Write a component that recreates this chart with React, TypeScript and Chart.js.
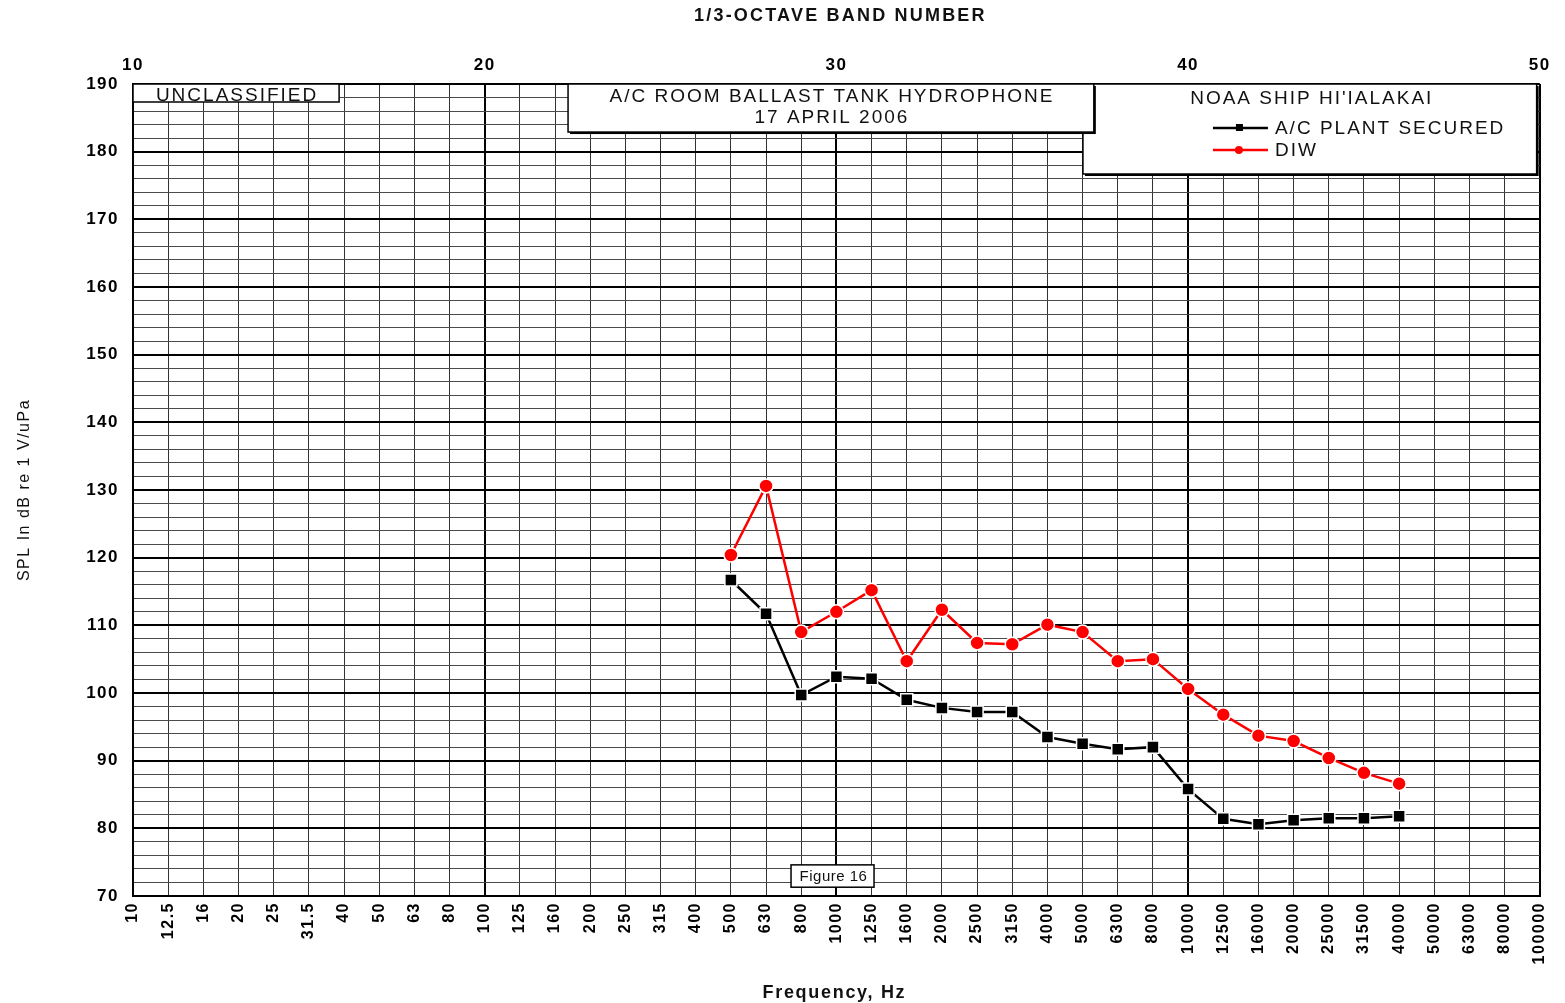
import React, { useEffect, useRef } from 'react';
import { Chart, registerables } from 'chart.js';

Chart.register(...registerables);

// 1/3-octave band numbers of the measured points
const bandNumbers = [27, 28, 29, 30, 31, 32, 33, 34, 35, 36, 37, 38, 39, 40, 41, 42, 43, 44, 45, 46];
// SPL, dB re 1 V/uPa
const acPlantSecured = [116.7, 111.7, 99.7, 102.4, 102.1, 99.0, 97.8, 97.2, 97.2, 93.5, 92.5, 91.7, 92.0, 85.8, 81.4, 80.6, 81.2, 81.5, 81.5, 81.8];
const diw = [120.4, 130.6, 109.0, 112.0, 115.2, 104.7, 112.3, 107.4, 107.2, 110.1, 109.0, 104.7, 105.0, 100.6, 96.8, 93.7, 92.9, 90.4, 88.2, 86.6];
// frequency labels for bands 10..50
const freqLabels = ['10', '12.5', '16', '20', '25', '31.5', '40', '50', '63', '80', '100', '125', '160', '200', '250', '315', '400', '500', '630', '800', '1000', '1250', '1600', '2000', '2500', '3150', '4000', '5000', '6300', '8000', '10000', '12500', '16000', '20000', '25000', '31500', '40000', '50000', '63000', '80000', '100000'];
const bandMin = 10;
const bandMax = 50;
const splMin = 70;
const splMax = 190;

const FONT = '"Liberation Sans", Arial, sans-serif';

const bgPlugin = {
  id: 'bg',
  beforeDraw(chart: any) {
    const ctx = chart.ctx;
    ctx.save();
    ctx.fillStyle = '#fff';
    ctx.fillRect(0, 0, chart.width, chart.height);
    ctx.restore();
    (ctx as any).letterSpacing = '1.5px';
  },
};

const boxesPlugin = {
  id: 'boxes',
  afterDraw(chart: any) {
    const ctx = chart.ctx as CanvasRenderingContext2D;
    const xs = chart.scales.x;
    const ys = chart.scales.y;
    const px = (b: number) => xs.getPixelForValue(b);
    const py = (v: number) => ys.getPixelForValue(v);
    const box = (x0: number, y0: number, x1: number, y1: number, shadow: boolean) => {
      ctx.save();
      if (shadow) {
        ctx.fillStyle = '#000';
        ctx.fillRect(x0 + 2, y0 + 2, x1 - x0, y1 - y0);
      }
      ctx.fillStyle = '#fff';
      ctx.fillRect(x0, y0, x1 - x0, y1 - y0);
      ctx.strokeStyle = '#000';
      ctx.lineWidth = 1.5;
      ctx.strokeRect(x0, y0, x1 - x0, y1 - y0);
      ctx.restore();
    };
    const text = (s: string, x: number, y: number, font: string, align: CanvasTextAlign, spacing: string, rot = 0) => {
      ctx.save();
      (ctx as any).letterSpacing = spacing;
      ctx.font = font;
      ctx.fillStyle = '#111';
      ctx.textAlign = align;
      ctx.textBaseline = 'middle';
      ctx.translate(x, y);
      if (rot) ctx.rotate(rot);
      ctx.fillText(s, 0, 0);
      ctx.restore();
    };
    const boxFont = `19px ${FONT}`;

    // axis titles
    const ca = chart.chartArea;
    text('1/3-OCTAVE BAND NUMBER', (ca.left + ca.right) / 2 + 4, 16, `bold 18px ${FONT}`, 'center', '2.2px');
    text('Frequency, Hz', (ca.left + ca.right) / 2 - 2, 993, `bold 18px ${FONT}`, 'center', '1.7px');
    text('SPL In dB re 1 V/uPa', 25, 490, `16px ${FONT}`, 'center', '1.5px', -Math.PI / 2);

    // UNCLASSIFIED box
    const u0 = px(10), u1 = px(15.86), uy0 = py(190), uy1 = py(187.34);
    box(u0, uy0, u1, uy1, false);
    text('UNCLASSIFIED', (u0 + u1) / 2 + 1, (uy0 + uy1) / 2 + 3, boxFont, 'center', '2px');

    // Legend box (drawn first, the title box overlaps it)
    const l0 = px(37.01), l1 = px(49.91), ly0 = py(190), ly1 = py(176.7);
    box(l0, ly0, l1, ly1, true);
    text("NOAA SHIP HI'IALAKAI", (l0 + l1) / 2 + 2, ly0 + 15, boxFont, 'center', '2px');
    const ds = chart.data.datasets;
    const rows = [ly0 + 44, ly0 + 66];
    ds.forEach((d: any, i: number) => {
      const y = rows[i];
      ctx.save();
      ctx.strokeStyle = d.borderColor;
      ctx.lineWidth = 2.5;
      ctx.beginPath();
      ctx.moveTo(l0 + 130, y);
      ctx.lineTo(l0 + 185, y);
      ctx.stroke();
      ctx.fillStyle = d.backgroundColor;
      if (d.pointStyle === 'rect') {
        ctx.fillRect(l0 + 153, y - 4, 7, 7);
      } else {
        ctx.beginPath();
        ctx.arc(l0 + 156, y, 4, 0, Math.PI * 2);
        ctx.fill();
      }
      ctx.restore();
      text(d.label, l0 + 192, y + 1, boxFont, 'left', '2px');
    });

    // Title box
    const t0 = px(22.37), t1 = px(37.32), ty0 = py(190), ty1 = py(182.9);
    box(t0, ty0, t1, ty1, true);
    text('A/C ROOM BALLAST TANK HYDROPHONE', (t0 + t1) / 2 + 1, ty0 + 13, boxFont, 'center', '2px');
    text('17 APRIL 2006', (t0 + t1) / 2 + 1, ty0 + 34, boxFont, 'center', '2px');

    // Figure label
    const f0 = px(28.71), f1 = px(31.07), fy0 = py(74.6), fy1 = py(71.3);
    box(f0, fy0, f1, fy1, false);
    text('Figure 16', (f0 + f1) / 2 + 1, (fy0 + fy1) / 2 + 1, `15px ${FONT}`, 'center', '0.5px');

    (ctx as any).letterSpacing = '0px';
  },
};

export default function App() {
  const ref = useRef<HTMLCanvasElement | null>(null);

  useEffect(() => {
    if (!ref.current) return;
    const toPts = (vals: number[]) => vals.map((v, i) => ({ x: bandNumbers[i], y: v }));
    const chart = new Chart(ref.current, {
      type: 'line',
      data: {
        datasets: [
          {
            label: 'A/C PLANT SECURED',
            data: toPts(acPlantSecured),
            borderColor: '#000',
            backgroundColor: '#000',
            borderWidth: 2.5,
            pointStyle: 'rect',
            pointRadius: 8.5,
            pointBorderColor: '#fff',
            pointBorderWidth: 1.5,
            tension: 0,
          },
          {
            label: 'DIW',
            data: toPts(diw),
            borderColor: '#ff0000',
            backgroundColor: '#ff0000',
            borderWidth: 2.5,
            pointStyle: 'circle',
            pointRadius: 7,
            pointBorderColor: '#fff',
            pointBorderWidth: 1.5,
            tension: 0,
          },
        ],
      },
      options: {
        responsive: false,
        animation: false,
        layout: { padding: { left: 0, right: 25, top: 0, bottom: 0 } },
        plugins: {
          legend: { display: false },
          tooltip: { enabled: false },
        },
        scales: {
          x: {
            type: 'linear',
            position: 'bottom',
            min: bandMin,
            max: bandMax,
            afterFit: (s: any) => { s.height = 107; },
            afterBuildTicks: (s: any) => {
              const t = [];
              for (let b = bandMin; b <= bandMax; b++) t.push({ value: b });
              s.ticks = t;
            },
            ticks: {
              autoSkip: false,
              minRotation: 90,
              maxRotation: 90,
              padding: 6,
              color: '#000',
              font: { family: FONT, size: 16, weight: 'bold' },
              callback: (v: any) => freqLabels[Math.round(Number(v)) - bandMin] ?? '',
            },
            grid: {
              drawTicks: false,
              color: (c: any) => (c.tick && c.tick.value % 10 === 0 ? '#000' : '#333'),
              lineWidth: (c: any) => (c.tick && c.tick.value % 10 === 0 ? 2 : 1),
            },
            border: { display: true, color: '#000', width: 2 },
          },
          x2: {
            type: 'linear',
            position: 'top',
            min: bandMin,
            max: bandMax,
            afterFit: (s: any) => { s.height = 84; },
            ticks: {
              stepSize: 10,
              padding: 8,
              color: '#000',
              font: { family: FONT, size: 17, weight: 'bold' },
            },
            grid: { display: false, drawTicks: false },
            border: { display: false },
          },
          y: {
            type: 'linear',
            min: splMin,
            max: splMax,
            afterFit: (s: any) => { s.width = 133; },
            ticks: {
              stepSize: 2,
              autoSkip: false,
              padding: 14,
              color: '#000',
              font: { family: FONT, size: 17, weight: 'bold' },
              callback: (v: any) => (Number(v) % 10 === 0 ? String(v) : ''),
            },
            grid: {
              drawTicks: false,
              color: (c: any) => (c.tick && c.tick.value % 10 === 0 ? '#000' : '#4a4a4a'),
              lineWidth: (c: any) => (c.tick && c.tick.value % 10 === 0 ? 2 : 1),
            },
            border: { display: true, color: '#000', width: 2 },
          },
        },
      } as any,
      plugins: [bgPlugin, boxesPlugin],
    });
    return () => chart.destroy();
  }, []);

  return (
    <canvas
      ref={ref}
      width={1565}
      height={1003}
      style={{ position: 'absolute', left: 0, top: 0, width: 1565, height: 1003 }}
    />
  );
}
